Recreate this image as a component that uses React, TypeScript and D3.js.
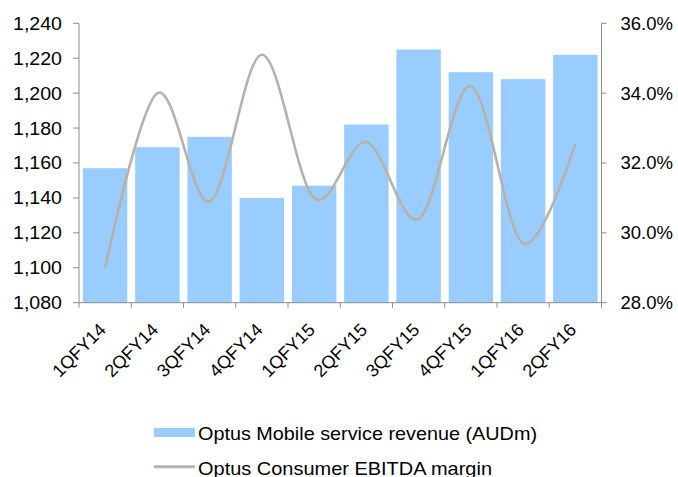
import React from "react";
import * as d3 from "d3";

const categories = ["1QFY14","2QFY14","3QFY14","4QFY14","1QFY15","2QFY15","3QFY15","4QFY15","1QFY16","2QFY16"];
const revenue = [1157, 1169, 1175, 1140, 1147, 1182, 1225, 1212, 1208, 1222];
const margin = [29.0, 34.0, 30.9, 35.1, 31.0, 32.6, 30.4, 34.2, 29.7, 32.55];
const leftTicks = [1080, 1100, 1120, 1140, 1160, 1180, 1200, 1220, 1240];
const rightTicks = [28, 30, 32, 34, 36];
const legendLabels = ["Optus Mobile service revenue (AUDm)", "Optus Consumer EBITDA margin"];

const W = 678, H = 477;
const L = 79, R = 601.5, T = 23.3, B = 302.7;
const FONT = "'Liberation Sans', Arial, sans-serif";
const BAR = "#99CCFF";
const LINE = "#B8B1AA";
const AXIS = "#8C8C8C";

export default function App() {
  const x = d3.scaleBand<string>().domain(categories).range([L, R]).paddingInner(0.15).paddingOuter(0.075);
  const yL = d3.scaleLinear().domain([1080, 1240]).range([B, T]);
  const yR = d3.scaleLinear().domain([28, 36]).range([B, T]);
  const step = (R - L) / categories.length;
  const cx = (c: string) => (x(c) as number) + x.bandwidth() / 2;
  const lineGen = d3.line<number>()
    .x((_, i) => cx(categories[i]))
    .y((d) => yR(d))
    .curve(d3.curveCardinal.tension(0));
  const fmtL = d3.format(",");
  const fmtR = (v: number) => v.toFixed(1) + "%";

  return (
    <svg width={W} height={H} style={{ position: "absolute", left: 0, top: 0, background: "#fff" }} fontFamily={FONT}>
      {categories.map((c, i) => (
        <rect key={c} x={x(c)} y={yL(revenue[i])} width={x.bandwidth()} height={B - yL(revenue[i])} fill={BAR} />
      ))}
      <path d={lineGen(margin) || ""} fill="none" stroke={LINE} strokeWidth={2.6} />
      {/* left axis */}
      <line x1={L} x2={L} y1={T} y2={B} stroke={AXIS} strokeWidth={1} />
      {leftTicks.map((t) => (
        <g key={t}>
          <line x1={L - 6} x2={L} y1={yL(t)} y2={yL(t)} stroke={AXIS} />
          <text x={L - 17} y={yL(t)} dy="0.35em" textAnchor="end" fontSize={18.5} fill="#000" textLength={49} lengthAdjust="spacingAndGlyphs">{fmtL(t)}</text>
        </g>
      ))}
      {/* right axis */}
      <line x1={R} x2={R} y1={T} y2={B} stroke={AXIS} strokeWidth={1} />
      {rightTicks.map((t) => (
        <g key={t}>
          <line x1={R} x2={R + 5} y1={yR(t)} y2={yR(t)} stroke={AXIS} />
          <text x={R + 19} y={yR(t)} dy="0.35em" textAnchor="start" fontSize={18.5} fill="#000">{fmtR(t)}</text>
        </g>
      ))}
      {/* bottom axis */}
      <line x1={L} x2={R} y1={B} y2={B} stroke={AXIS} />
      {d3.range(categories.length + 1).map((i) => (
        <line key={i} x1={L + i * step} x2={L + i * step} y1={B} y2={B + 5} stroke={AXIS} />
      ))}
      {categories.map((c) => (
        <text key={c} transform={`translate(${cx(c) - 7},${322}) rotate(-45)`} textAnchor="end" dy="0.7em" fontSize={18} fill="#000">{c}</text>
      ))}
      {/* legend */}
      <rect x={154} y={428} width={41} height={9} fill={BAR} />
      <text x={198} y={440} fontSize={19} fill="#000" textLength={339} lengthAdjust="spacingAndGlyphs">{legendLabels[0]}</text>
      <line x1={154} x2={195} y1={466.7} y2={466.7} stroke={LINE} strokeWidth={3} />
      <text x={198} y={475} fontSize={19} fill="#000" textLength={294} lengthAdjust="spacingAndGlyphs">{legendLabels[1]}</text>
    </svg>
  );
}
